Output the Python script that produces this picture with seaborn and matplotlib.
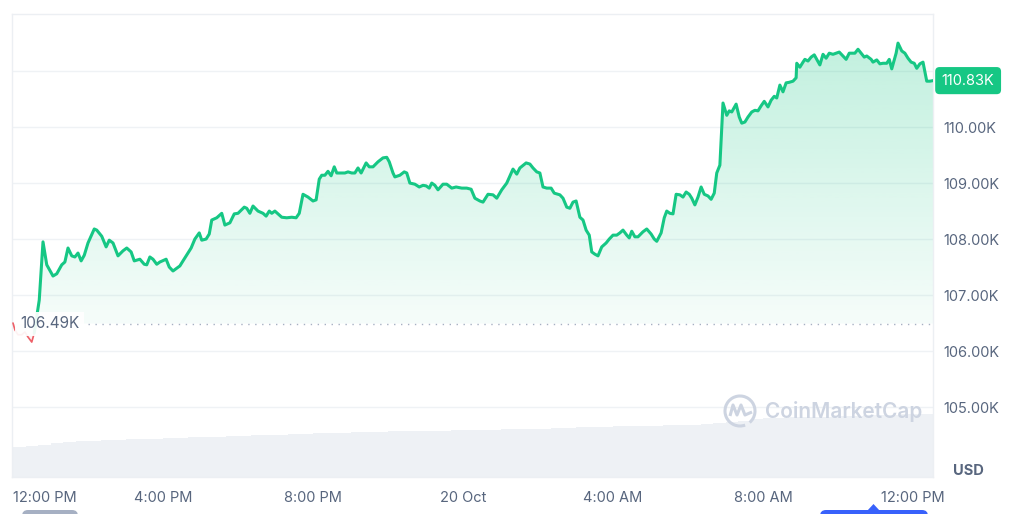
import numpy as np
import matplotlib
matplotlib.use("Agg")
import matplotlib.pyplot as plt
import matplotlib.transforms as mtransforms
from matplotlib.patches import Arc, FancyBboxPatch, Polygon
from matplotlib.path import Path
from matplotlib.patches import PathPatch
import seaborn as sns

# minutes after 12:00 PM (19 Oct) and BTC price in thousands USD
red_minutes = [0, 3, 8, 14, 19, 24, 30, 34]
red_prices = [106.50, 106.38, 106.29, 106.29, 106.34, 106.25, 106.16, 106.32]

minutes = [34, 38, 42, 48, 54, 64, 70, 78, 83, 88, 94, 99, 104, 109, 114, 120,
           130, 134, 142, 149, 154, 160, 168, 176, 182, 189, 194, 203, 210, 214,
           219, 224, 230, 235, 245, 250, 256, 262, 267, 272, 285, 291, 298, 302,
           309, 314, 318, 326, 334, 339, 347, 354, 360, 370, 374, 379, 384, 392,
           400, 405, 410, 414, 419, 424, 430, 438, 446, 453, 458, 464, 472, 480,
           485, 490, 494, 499, 504, 509, 514, 518, 526, 531, 536, 542, 547, 552,
           557, 565, 570, 576, 584, 592, 598, 602, 608, 611, 619, 626, 630, 635,
           643, 650, 656, 661, 666, 670, 675, 680, 688, 694, 702, 709, 718, 726,
           733, 739, 747, 752, 760, 768, 774, 782, 790, 800, 806, 811, 821, 827,
           832, 838, 843, 848, 854, 861, 866, 875, 880, 886, 891, 896, 901, 907,
           912, 917, 922, 926, 931, 936, 942, 949, 954, 960, 966, 971, 976, 982,
           986, 990, 995, 1000, 1008, 1014, 1021, 1026, 1030, 1037, 1042, 1046,
           1051, 1056, 1061, 1067, 1072, 1077, 1082, 1086, 1091, 1096, 1101,
           1106, 1112, 1117, 1122, 1126, 1131, 1136, 1142, 1146, 1150, 1157,
           1162, 1166, 1171, 1176, 1182, 1187, 1192, 1197, 1202, 1208, 1213,
           1218, 1222, 1227, 1232, 1237, 1242, 1248, 1253, 1254, 1259, 1264,
           1267, 1272, 1277, 1282, 1286, 1291, 1296, 1301, 1306, 1312, 1317,
           1322, 1328, 1333, 1338, 1342, 1347, 1352, 1357, 1362, 1366, 1373,
           1376, 1382, 1387, 1392, 1398, 1402, 1406, 1413, 1416, 1422, 1427,
           1432, 1437, 1442, 1446, 1451, 1456, 1462, 1467, 1472]
prices = [106.32, 106.61, 106.91, 107.95, 107.54, 107.34, 107.38, 107.54, 107.59,
          107.84, 107.70, 107.68, 107.75, 107.61, 107.71, 107.93, 108.18, 108.16,
          108.05, 107.86, 107.98, 107.93, 107.70, 107.79, 107.84, 107.77, 107.61,
          107.64, 107.55, 107.54, 107.68, 107.64, 107.55, 107.59, 107.64, 107.50,
          107.43, 107.48, 107.52, 107.61, 107.84, 108.00, 108.11, 107.98, 108.00,
          108.09, 108.34, 108.38, 108.46, 108.25, 108.29, 108.45, 108.46, 108.57,
          108.55, 108.46, 108.59, 108.50, 108.46, 108.41, 108.50, 108.46, 108.50,
          108.45, 108.39, 108.38, 108.39, 108.38, 108.46, 108.80, 108.75, 108.68,
          108.70, 109.07, 109.14, 109.14, 109.21, 109.13, 109.29, 109.18, 109.18,
          109.18, 109.20, 109.18, 109.18, 109.27, 109.18, 109.36, 109.29, 109.29,
          109.38, 109.45, 109.46, 109.38, 109.18, 109.11, 109.14, 109.20, 109.18,
          109.00, 108.98, 108.93, 108.96, 108.95, 108.91, 109.00, 108.96, 108.88,
          108.98, 108.98, 108.91, 108.93, 108.91, 108.91, 108.89, 108.73, 108.68,
          108.66, 108.80, 108.79, 108.73, 108.88, 109.00, 109.25, 109.16, 109.27,
          109.36, 109.34, 109.27, 109.20, 109.18, 108.93, 108.91, 108.91, 108.82,
          108.79, 108.73, 108.57, 108.55, 108.66, 108.68, 108.39, 108.34, 108.16,
          108.07, 107.77, 107.73, 107.70, 107.86, 107.93, 108.00, 108.07, 108.07,
          108.11, 108.16, 108.07, 108.02, 108.14, 108.04, 108.04, 108.13, 108.18,
          108.09, 108.00, 107.96, 108.11, 108.38, 108.50, 108.46, 108.45, 108.80,
          108.79, 108.75, 108.84, 108.80, 108.73, 108.61, 108.75, 108.93, 108.80,
          108.77, 108.71, 108.82, 109.18, 109.32, 110.43, 110.21, 110.29, 110.27,
          110.41, 110.18, 110.07, 110.09, 110.18, 110.27, 110.30, 110.29, 110.38,
          110.46, 110.36, 110.48, 110.55, 110.52, 110.75, 110.63, 110.79, 110.80,
          110.82, 110.88, 111.14, 111.07, 111.16, 111.21, 111.18, 111.25, 111.29,
          111.21, 111.11, 111.30, 111.23, 111.32, 111.30, 111.32, 111.34, 111.27,
          111.21, 111.32, 111.32, 111.32, 111.39, 111.32, 111.25, 111.27, 111.21,
          111.16, 111.20, 111.13, 111.14, 111.14, 111.21, 111.04, 111.32, 111.50,
          111.36, 111.32, 111.23, 111.16, 111.14, 111.05, 111.13, 111.16, 110.82,
          110.82, 110.83]

open_price = 106.49
last_price = 110.83

# 20-minute volume bars (billions USD)
volume = [45, 46.5, 48, 51, 52.5, 54, 54, 55.5, 55.5, 57, 57, 57, 58.5, 58.5,
          60, 60, 60, 61.5, 61.5, 63, 63, 63, 64.5, 64.5, 66, 66, 66, 67.5,
          67.5, 67.5, 69, 69, 69, 69, 69, 70.5, 70.5, 70.5, 70.5, 72, 72, 72,
          72, 73.5, 73.5, 75, 75, 75, 76.5, 76.5, 76.5, 76.5, 78, 78, 78, 79.5,
          81, 82.5, 84, 87, 88.5, 88.5, 90, 90, 90, 90, 91.5, 91.5, 93, 93, 93,
          94.5, 94.5, 94.5]
volume_minutes = list(range(0, 20 * len(volume), 20))

tick_minutes = [0, 240, 480, 720, 960, 1200, 1440]
tick_labels = ["12:00 PM", "4:00 PM", "8:00 PM", "20 Oct", "4:00 AM", "8:00 AM", "12:00 PM"]
price_ticks = [105, 106, 107, 108, 109, 110, 111]
price_tick_labels = ["105.00K", "106.00K", "107.00K", "108.00K", "109.00K", "110.00K", ""]

GREEN = "#16c784"
RED = "#ea3943"
GRID = "#eff2f5"
TEXT = "#58667e"

sns.set_theme(style="white")
plt.rcParams['font.family'] = ['Inter', 'DejaVu Sans']

fig = plt.figure(figsize=(10.24, 5.14), dpi=100)
rect = [12 / 1024, 1 - 477 / 514, 921 / 1024, 463 / 514]
xlim = (-1.6, 1472)
ylim = (103.75, 112.02)

# volume underneath
ax_vol = fig.add_axes(rect)
ax_vol.bar(volume_minutes, volume, width=20, align="edge", color="#eef1f5", linewidth=0)
ax_vol.set_xlim(xlim)
ax_vol.set_ylim(0, 694.5)
ax_vol.axis("off")

ax = fig.add_axes(rect)
ax.patch.set_visible(False)

# gradient fill between line and open price
poly = ax.fill_between(minutes, prices, open_price, facecolor="none", edgecolor="none")
alpha = np.linspace(0.04, 0.27, 256)
img = np.zeros((256, 1, 4))
img[..., :3] = matplotlib.colors.to_rgb(GREEN)
img[:, 0, 3] = alpha
im = ax.imshow(img, extent=[xlim[0], xlim[1], open_price, 111.6], origin="lower",
               aspect="auto", zorder=1)
im.set_clip_path(poly.get_paths()[0], transform=ax.transData)

ax.fill_between(red_minutes, red_prices, open_price, color=RED, alpha=0.06, linewidth=0)
sns.lineplot(x=red_minutes, y=red_prices, ax=ax, color=RED, linewidth=1.2, alpha=0.8, zorder=3)
sns.lineplot(x=minutes, y=prices, ax=ax, color=GREEN, linewidth=2.2, zorder=3)

# dotted open-price line
ax.hlines(open_price, 120, xlim[1], colors="#a6b0c3", linestyles=(0, (1, 4)), linewidth=1, zorder=2)
ax.text(11, open_price, "106.49K", color=TEXT, fontsize=11, va="center", ha="left", zorder=5,
        bbox=dict(boxstyle="square,pad=0.3", fc="white", ec="none", alpha=0.92))

ax.set_xlim(xlim)
ax.set_ylim(ylim)
ax.set_xticks(tick_minutes)
ax.set_xticklabels(tick_labels)
ax.get_xticklabels()[0].set_ha("left")
ax.set_yticks(price_ticks)
ax.set_yticklabels(price_tick_labels)
ax.yaxis.tick_right()
ax.tick_params(axis="y", length=0, pad=7.5, labelsize=10.5, labelcolor=TEXT)
ax.tick_params(axis="x", length=0, pad=10, labelsize=10.5, labelcolor=TEXT)
ax.grid(axis="y", color=GRID, linewidth=1)
ax.grid(axis="x", visible=False)
for s in ax.spines.values():
    s.set_color("#eceff3")
    s.set_linewidth(1)
ax.set_xlabel("")
ax.set_ylabel("")

# current price tag
trans = mtransforms.blended_transform_factory(ax.transAxes, ax.transData)
ax.text(1.0095, last_price, "110.83K", transform=trans, color="white", fontsize=10.5,
        va="center", ha="left", zorder=6, clip_on=False,
        bbox=dict(boxstyle="round,pad=0.45,rounding_size=0.3", fc=GREEN, ec="none"))

fig.text(968 / 1024, 1 - 471 / 514, "USD", color=TEXT, fontsize=10.5, fontweight="bold",
         ha="center", va="center")

# watermark
wm = "#cdd4e1"
fig.text(765 / 1024, 1 - 412 / 514, "CoinMarketCap", color=wm, fontsize=15, fontweight="semibold",
         ha="left", va="center")
inch = fig.dpi_scale_trans
fig.add_artist(Arc((7.40, 1.03), 0.30, 0.30, theta1=-50, theta2=290, color=wm, lw=2.2, transform=inch))
wave = Path([(7.30, 0.98), (7.33, 1.09), (7.37, 0.99), (7.41, 1.09), (7.45, 0.99), (7.52, 1.02)])
fig.add_artist(PathPatch(wave, fill=False, ec=wm, lw=2.2, transform=inch, joinstyle="round"))

# cropped controls at the bottom edge
fig.add_artist(FancyBboxPatch((0.22, -0.08), 0.56, 0.12, boxstyle="round,pad=0,rounding_size=0.06",
                              fc="#a6b0c3", ec="none", transform=inch))
fig.add_artist(FancyBboxPatch((8.20, -0.08), 1.08, 0.12, boxstyle="round,pad=0,rounding_size=0.06",
                              fc="#3861fb", ec="none", transform=inch))
fig.add_artist(Polygon([(8.67, 0.03), (8.80, 0.03), (8.735, 0.10)], closed=True, fc="#3861fb",
                       ec="none", transform=inch))

fig.savefig("out.png", dpi=100, facecolor="white")
